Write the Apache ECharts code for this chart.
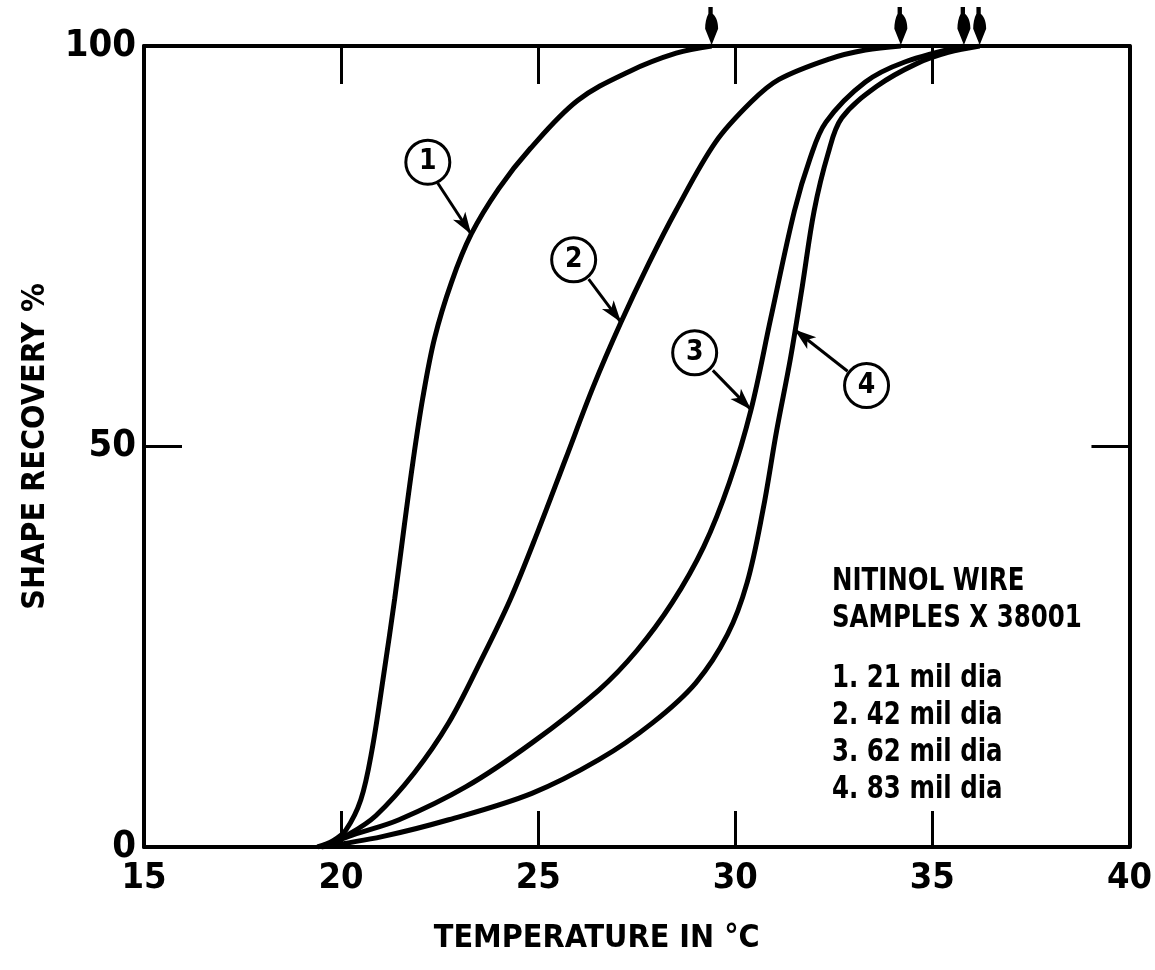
<!DOCTYPE html>
<html>
<head>
<meta charset="utf-8">
<script src="https://cdn.jsdelivr.net/npm/echarts@6/dist/echarts.min.js"></script>
<style>html,body{margin:0;padding:0;background:#fff;}</style>
</head>
<body>
<div id="chart" style="width:1155px;height:970px;"></div>
<script type="text/javascript">
// shape recovery of nitinol wire samples X 38001 vs temperature
var FONT = "'Liberation Sans Narrow', 'DejaVu Sans Condensed', 'Liberation Sans', sans-serif";

var names = ['1. 21 mil dia', '2. 42 mil dia', '3. 62 mil dia', '4. 83 mil dia'];

// [temperature degC, recovery %]
var wire1 = [[19.4,0],[19.8,0.8],[20.12,2.1],[20.5,5.9],[20.78,12],[21.08,21.5],[21.36,31],[21.6,40],[21.82,48],[22.07,56],[22.37,63.5],[22.8,70.5],[23.3,76.5],[24.0,82.2],[24.8,87.2],[26.0,93.2],[27.3,96.8],[28.5,99.1],[29.4,100]];
var wire2 = [[19.5,0],[20.2,1.6],[20.88,3.9],[21.85,9.2],[22.73,15.5],[23.55,23.3],[24.3,31],[25.0,39.5],[25.7,48.5],[26.4,57.5],[27.1,65.5],[27.8,72.8],[28.5,79.5],[29.5,88],[30.4,93],[31.1,95.8],[32.4,98.4],[33.3,99.5],[34.2,100]];
var wire3 = [[19.5,0],[20.3,1.5],[21.47,3.4],[23.16,7.5],[24.84,13],[26.54,19.6],[27.5,24.5],[28.4,30.5],[29.2,37.5],[29.85,45.5],[30.4,54.6],[30.9,66],[31.5,79.4],[31.9,86],[32.3,90.5],[33.3,95.5],[34.3,98],[35.8,100]];
var wire4 = [[19.5,0],[21.04,1.3],[22.73,3.4],[24.84,6.7],[26.54,10.9],[27.9,15.5],[29.0,20.5],[29.8,26.5],[30.3,33],[30.7,42],[31.05,52],[31.4,61],[31.7,70],[32.0,79.4],[32.35,86.5],[32.7,91],[33.6,95],[34.6,97.8],[35.4,99.2],[36.2,100]];

// temperature where each sample reaches 100 % (arrows on top edge)
var fullAt = [29.4, 34.2, 35.8, 36.2];

// circled number tags and their pointer arrows
var tagAt = [[22.2,85.5],[25.9,73.3],[28.97,61.7],[33.33,57.6]];
var tagFrom = [[22.45,82.9],[26.28,70.9],[29.43,59.5],[32.85,59.4]];
var tagTo = [[23.3,76.5],[27.1,65.5],[30.4,54.6],[31.5,64.6]];

var heading = ['NITINOL WIRE', 'SAMPLES X 38001'];

var chart = echarts.init(document.getElementById('chart'));

var downArrow = 'path://M3,0 L7,0 L7,7 C11,11 12,17 12,23 L6,40 L0,23 C0,17 1,11 3,7 Z';

function curve(i, pts) {
    return {
        name: names[i],
        type: 'line',
        data: pts,
        smooth: 0.35,
        symbol: 'none',
        xAxisIndex: 0,
        yAxisIndex: 0,
        lineStyle: { color: '#000', width: 5 },
        itemStyle: { color: '#000' },
        markPoint: {
            silent: true,
            symbol: 'circle',
            symbolSize: 44,
            itemStyle: { color: '#fff', borderColor: '#000', borderWidth: 3 },
            label: { show: true, formatter: String(i + 1), color: '#000', fontSize: 28, fontWeight: 'bold', fontFamily: FONT },
            data: [
                { coord: tagAt[i] },
                { coord: [fullAt[i], 100], symbol: downArrow, symbolSize: [13, 38], symbolOffset: [0, -20],
                  itemStyle: { color: '#000', borderWidth: 0 }, label: { show: false } }
            ]
        },
        markLine: {
            silent: true,
            symbol: ['none', 'arrow'],
            symbolSize: [11, 22],
            lineStyle: { color: '#000', width: 3, type: 'solid' },
            label: { show: false },
            data: [[{ coord: tagFrom[i] }, { coord: tagTo[i] }]]
        }
    };
}

var axisFont = { color: '#000', fontWeight: 'bold', fontFamily: FONT };
var boxLine = { show: true, onZero: false, lineStyle: { color: '#000', width: 4 } };

// legend block, lettered narrower like the original
var textLines = [
    { t: heading[0], y: 566 }, { t: heading[1], y: 603 },
    { t: names[0], y: 663 }, { t: names[1], y: 700 }, { t: names[2], y: 737 }, { t: names[3], y: 774 }
];

option = {
    animation: false,
    backgroundColor: '#fff',
    grid: { left: 144, right: 25, top: 46, bottom: 123 },
    graphic: textLines.map(function (l) {
        return {
            type: 'text', left: 832, top: l.y, scaleX: 0.85, silent: true,
            style: { text: l.t, fill: '#000', fontSize: 32, fontWeight: 'bold', fontFamily: FONT }
        };
    }),
    xAxis: [{
        type: 'value', position: 'bottom', min: 15, max: 40, interval: 5,
        axisLine: boxLine,
        axisTick: { inside: true, length: 36, lineStyle: { color: '#000', width: 3 } },
        axisLabel: Object.assign({ fontSize: 36, margin: 14 }, axisFont),
        splitLine: { show: false },
        name: 'TEMPERATURE IN °C', nameLocation: 'middle', nameGap: 76,
        nameTextStyle: Object.assign({ fontSize: 32, padding: [0, 80, 0, 0] }, axisFont)
    }, {
        type: 'value', position: 'top', min: 15, max: 40, interval: 5,
        axisLine: boxLine,
        axisTick: { inside: true, length: 38, lineStyle: { color: '#000', width: 3 } },
        axisLabel: { show: false },
        splitLine: { show: false }
    }],
    yAxis: [{
        type: 'value', position: 'left', min: 0, max: 100, interval: 50,
        axisLine: boxLine,
        axisTick: { inside: true, length: 38, lineStyle: { color: '#000', width: 3 } },
        axisLabel: Object.assign({ fontSize: 38, margin: 8 }, axisFont),
        splitLine: { show: false },
        name: 'SHAPE RECOVERY %', nameLocation: 'middle', nameGap: 92, nameRotate: 90,
        nameTextStyle: Object.assign({ fontSize: 32 }, axisFont)
    }, {
        type: 'value', position: 'right', min: 0, max: 100, interval: 50,
        axisLine: boxLine,
        axisTick: { inside: true, length: 38, lineStyle: { color: '#000', width: 3 } },
        axisLabel: { show: false },
        splitLine: { show: false }
    }],
    series: [curve(0, wire1), curve(1, wire2), curve(2, wire3), curve(3, wire4)]
};
chart.setOption(option);
</script>
</body>
</html>
